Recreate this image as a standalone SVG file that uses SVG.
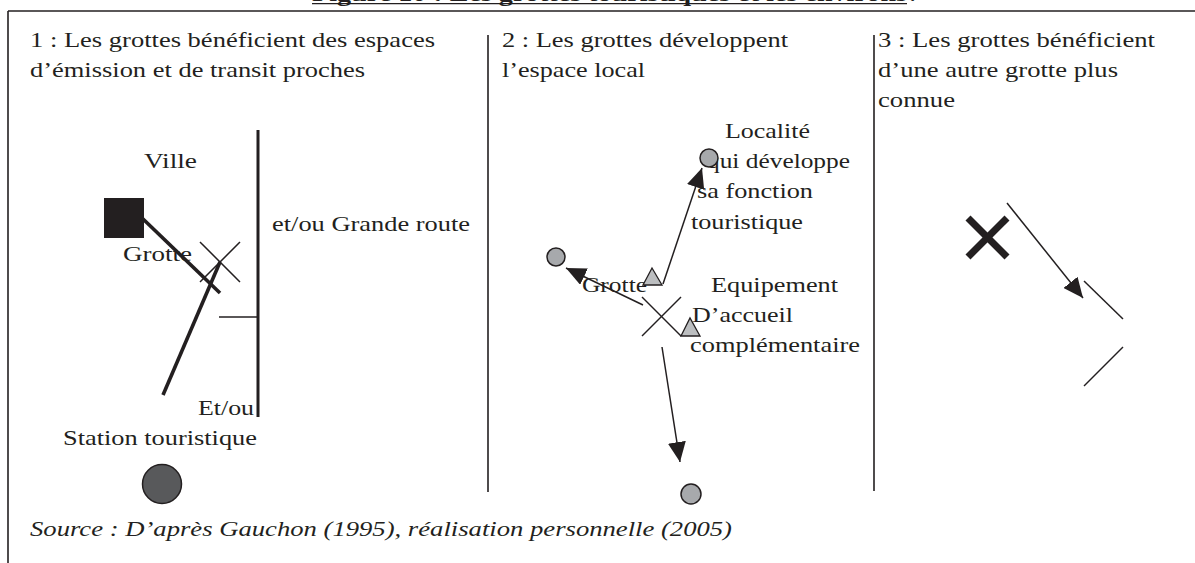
<svg xmlns="http://www.w3.org/2000/svg" width="1195" height="563" viewBox="0 0 1195 563">
  <style>
    text { font-family: "Liberation Serif", "Times New Roman", serif; font-size: 22px; fill: #231f20; }
    .title { font-weight: bold; }
    .src { font-style: italic; }
    .frame { stroke: #231f20; stroke-width: 1.6; fill: none; }
    .road { stroke: #231f20; stroke-width: 3; fill: none; }
    .thick { stroke: #231f20; stroke-width: 3.6; fill: none; }
    .thin { stroke: #231f20; stroke-width: 1.5; fill: none; }
    .flow { stroke: #231f20; stroke-width: 1.5; fill: none; marker-end: url(#head); }
    .cross { stroke: #231f20; stroke-width: 7; fill: none; }
    .spot { fill: #a7a9ac; stroke: #231f20; stroke-width: 1.5; }
    .equip { fill: #bcbec0; stroke: #231f20; stroke-width: 1.3; }
  </style>
  <defs>
    <marker id="head" viewBox="0 0 20 18" refX="20" refY="9" markerWidth="20" markerHeight="18" markerUnits="userSpaceOnUse" orient="auto">
      <path d="M0,0 L20,9 L0,18 z" fill="#231f20"/>
    </marker>
  </defs>
  <rect width="1195" height="563" fill="#ffffff"/>

  <!-- heading, partly above the top edge -->
  <g id="heading">
    <text class="title" x="312" y="0.5" textLength="595" lengthAdjust="spacingAndGlyphs">Figure 10 : Les grottes touristiques et les environs</text>
    <text class="title" x="909" y="0.5">:</text>
    <line x1="312" y1="3.6" x2="907" y2="3.6" stroke="#231f20" stroke-width="1.3"/>
  </g>

  <!-- outer frame and panel separators -->
  <g id="frame">
    <line class="frame" x1="8" y1="11" x2="1195" y2="11"/>
    <line class="frame" x1="8" y1="11" x2="8" y2="563"/>
    <line class="frame" x1="488" y1="35" x2="488" y2="492"/>
    <line class="frame" x1="874" y1="35" x2="874" y2="491"/>
  </g>

  <!-- panel 1 -->
  <g id="panel1-title">
    <text x="30" y="47" textLength="405" lengthAdjust="spacingAndGlyphs">1 : Les grottes bénéficient des espaces</text>
    <text x="30" y="77" textLength="335" lengthAdjust="spacingAndGlyphs">d’émission et de transit proches</text>
  </g>
  <g id="ville">
    <text x="144" y="168" textLength="53" lengthAdjust="spacingAndGlyphs">Ville</text>
    <rect x="104" y="198" width="40" height="40" fill="#231f20"/>
  </g>
  <g id="route">
    <line class="road" x1="258" y1="130" x2="258" y2="417"/>
    <text x="272" y="231" textLength="198" lengthAdjust="spacingAndGlyphs">et/ou Grande route</text>
  </g>
  <g id="grotte1">
    <text x="123" y="261" textLength="69" lengthAdjust="spacingAndGlyphs">Grotte</text>
    <line class="thin" x1="200" y1="242" x2="240" y2="282"/>
    <line class="thin" x1="240" y1="242" x2="200" y2="282"/>
  </g>
  <g id="station">
    <text x="198" y="415" textLength="56" lengthAdjust="spacingAndGlyphs">Et/ou</text>
    <text x="63" y="445" textLength="194" lengthAdjust="spacingAndGlyphs">Station touristique</text>
    <circle cx="162" cy="484" r="19.5" fill="#58595b" stroke="#231f20" stroke-width="1.5"/>
  </g>
  <g id="panel1-links">
    <line class="thick" x1="142" y1="218" x2="220" y2="293"/>
    <line class="thick" x1="163" y1="395" x2="220" y2="262"/>
    <line class="thin" x1="219" y1="317" x2="257" y2="317" stroke-width="2"/>
  </g>

  <!-- panel 2 -->
  <g id="panel2-title">
    <text x="502" y="47" textLength="286" lengthAdjust="spacingAndGlyphs">2 : Les grottes développent</text>
    <text x="502" y="77" textLength="143" lengthAdjust="spacingAndGlyphs">l’espace local</text>
  </g>
  <g id="panel2-links">
    <line class="flow" x1="663" y1="284" x2="702" y2="168"/>
    <line class="flow" x1="643" y1="305" x2="566" y2="268"/>
    <line class="flow" x1="662" y1="347" x2="680" y2="462"/>
  </g>
  <g id="localite">
    <text x="725" y="138" textLength="85" lengthAdjust="spacingAndGlyphs">Localité</text>
    <text x="707" y="168" textLength="143" lengthAdjust="spacingAndGlyphs">qui développe</text>
    <text x="697" y="198" textLength="116" lengthAdjust="spacingAndGlyphs">sa fonction</text>
    <text x="691" y="229" textLength="112" lengthAdjust="spacingAndGlyphs">touristique</text>
    <circle class="spot" cx="709" cy="158" r="9"/>
  </g>
  <g id="localite-west">
    <circle class="spot" cx="556" cy="257" r="9"/>
  </g>
  <g id="localite-south">
    <circle class="spot" cx="691" cy="494" r="10"/>
  </g>
  <g id="grotte2">
    <text x="582" y="292" textLength="65" lengthAdjust="spacingAndGlyphs">Grotte</text>
    <line class="thin" x1="642" y1="297" x2="681" y2="336"/>
    <line class="thin" x1="681" y1="297" x2="642" y2="336"/>
    <path class="equip" d="M643,285 L652,268 L662,285 z"/>
  </g>
  <g id="equipement">
    <text x="711" y="292" textLength="127" lengthAdjust="spacingAndGlyphs">Equipement</text>
    <text x="692" y="322" textLength="101" lengthAdjust="spacingAndGlyphs">D’accueil</text>
    <text x="690" y="352" textLength="170" lengthAdjust="spacingAndGlyphs">complémentaire</text>
    <path class="equip" d="M681,336 L690,318 L700,336 z"/>
  </g>

  <!-- panel 3 -->
  <g id="panel3-title">
    <text x="878" y="47" textLength="277" lengthAdjust="spacingAndGlyphs">3 : Les grottes bénéficient</text>
    <text x="878" y="77" textLength="240" lengthAdjust="spacingAndGlyphs">d’une autre grotte plus</text>
    <text x="878" y="107" textLength="77" lengthAdjust="spacingAndGlyphs">connue</text>
  </g>
  <g id="grotte-connue">
    <line class="cross" x1="968" y1="218" x2="1007" y2="257"/>
    <line class="cross" x1="1007" y1="218" x2="968" y2="257"/>
  </g>
  <g id="grotte-voisine">
    <line class="thin" x1="1084" y1="281" x2="1123" y2="319"/>
    <line class="thin" x1="1123" y1="347" x2="1084" y2="386"/>
  </g>
  <g id="panel3-links">
    <line class="flow" x1="1007" y1="203" x2="1083" y2="298"/>
  </g>

  <!-- source line -->
  <g id="source">
    <text class="src" x="30" y="536" textLength="702" lengthAdjust="spacingAndGlyphs">Source : D’après Gauchon (1995), réalisation personnelle (2005)</text>
  </g>
</svg>
